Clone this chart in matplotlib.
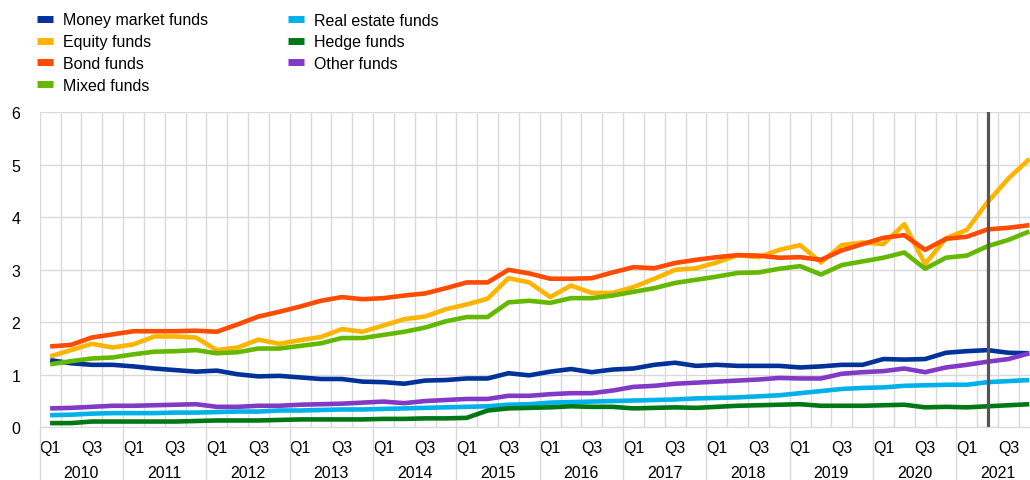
import matplotlib
matplotlib.use("Agg")
import matplotlib.pyplot as plt
import matplotlib.transforms as mtransforms
import numpy as np

plt.rcParams['font.family'] = ['Liberation Sans', 'DejaVu Sans']

years = list(range(2010, 2022))
quarters = [f"Q{q}" for y in years for q in range(1, 5)]

money_market = [1.28, 1.22, 1.19, 1.19, 1.16, 1.12, 1.09, 1.06, 1.08, 1.01, 0.97, 0.98,
                0.95, 0.92, 0.92, 0.87, 0.86, 0.83, 0.89, 0.90, 0.93, 0.93, 1.03, 0.99,
                1.06, 1.11, 1.05, 1.10, 1.12, 1.19, 1.23, 1.17, 1.19, 1.17, 1.17, 1.17,
                1.14, 1.16, 1.19, 1.19, 1.30, 1.29, 1.30, 1.42, 1.45, 1.47, 1.42, 1.41]
equity = [1.35, 1.47, 1.59, 1.52, 1.58, 1.73, 1.73, 1.71, 1.47, 1.52, 1.67, 1.59,
          1.66, 1.72, 1.87, 1.82, 1.94, 2.06, 2.11, 2.25, 2.34, 2.45, 2.84, 2.76,
          2.48, 2.70, 2.56, 2.56, 2.67, 2.83, 3.00, 3.03, 3.14, 3.28, 3.24, 3.38,
          3.47, 3.14, 3.47, 3.52, 3.49, 3.87, 3.11, 3.60, 3.76, 4.29, 4.74, 5.11]
bond = [1.54, 1.57, 1.71, 1.77, 1.83, 1.83, 1.83, 1.84, 1.82, 1.96, 2.11, 2.20,
        2.30, 2.41, 2.48, 2.44, 2.46, 2.51, 2.55, 2.65, 2.76, 2.76, 3.00, 2.93,
        2.83, 2.83, 2.84, 2.95, 3.05, 3.03, 3.13, 3.19, 3.24, 3.28, 3.27, 3.23,
        3.24, 3.19, 3.37, 3.49, 3.61, 3.66, 3.38, 3.59, 3.63, 3.77, 3.80, 3.85]
mixed = [1.20, 1.26, 1.31, 1.33, 1.39, 1.44, 1.45, 1.47, 1.41, 1.43, 1.50, 1.50,
         1.55, 1.60, 1.70, 1.70, 1.76, 1.82, 1.90, 2.02, 2.10, 2.10, 2.38, 2.41,
         2.37, 2.46, 2.46, 2.51, 2.58, 2.65, 2.75, 2.81, 2.87, 2.94, 2.95, 3.02,
         3.07, 2.91, 3.09, 3.16, 3.23, 3.33, 3.02, 3.23, 3.27, 3.45, 3.57, 3.73]
real_estate = [0.23, 0.24, 0.26, 0.27, 0.27, 0.27, 0.28, 0.28, 0.29, 0.30, 0.30, 0.32,
               0.32, 0.33, 0.34, 0.34, 0.35, 0.36, 0.37, 0.38, 0.39, 0.40, 0.43, 0.44,
               0.47, 0.48, 0.49, 0.50, 0.51, 0.52, 0.53, 0.55, 0.56, 0.57, 0.59, 0.61,
               0.65, 0.69, 0.73, 0.75, 0.76, 0.79, 0.80, 0.81, 0.81, 0.86, 0.88, 0.90]
hedge = [0.08, 0.08, 0.11, 0.11, 0.11, 0.11, 0.11, 0.12, 0.13, 0.13, 0.13, 0.14,
         0.15, 0.15, 0.15, 0.15, 0.16, 0.16, 0.17, 0.17, 0.18, 0.32, 0.36, 0.37,
         0.38, 0.40, 0.39, 0.39, 0.36, 0.37, 0.38, 0.37, 0.39, 0.41, 0.42, 0.43,
         0.44, 0.41, 0.41, 0.41, 0.42, 0.43, 0.38, 0.39, 0.38, 0.40, 0.42, 0.44]
other = [0.36, 0.37, 0.39, 0.41, 0.41, 0.42, 0.43, 0.44, 0.39, 0.39, 0.41, 0.41,
         0.43, 0.44, 0.45, 0.47, 0.49, 0.46, 0.50, 0.52, 0.54, 0.54, 0.60, 0.60,
         0.63, 0.65, 0.65, 0.70, 0.77, 0.79, 0.83, 0.85, 0.87, 0.89, 0.91, 0.94,
         0.93, 0.93, 1.02, 1.05, 1.07, 1.12, 1.05, 1.14, 1.19, 1.25, 1.30, 1.41]

series = [
    ("Money market funds", money_market, "#003299"),
    ("Equity funds", equity, "#FFB400"),
    ("Bond funds", bond, "#FF4B00"),
    ("Mixed funds", mixed, "#65B800"),
    ("Real estate funds", real_estate, "#00B1EA"),
    ("Hedge funds", hedge, "#007816"),
    ("Other funds", other, "#8139C6"),
]
marker_quarter = "2021Q2"
yticks = [0, 1, 2, 3, 4, 5, 6]

W, H = 1030, 481
fig = plt.figure(figsize=(W / 100, H / 100), dpi=100)
ax_left, ax_right = 39.7, 1039.7
ax_bottom, ax_top = 428.3, 113.3
ax = fig.add_axes([ax_left / W, 1 - ax_bottom / H, (ax_right - ax_left) / W, (ax_bottom - ax_top) / H])

n = len(quarters)
x = np.arange(n)
grid_c = "#d9d9d9"
fs = 11.5

for label, vals, col in series:
    ax.plot(x, vals, color=col, lw=3.3, label=label, solid_joinstyle="round", solid_capstyle="butt", zorder=3)

mi = [f"{y}Q{q}" for y in years for q in range(1, 5)].index(marker_quarter)
ax.axvline(mi, color="#555555", lw=2.3, zorder=4)

ax.set_xlim(-0.5, n - 0.5)
ax.set_ylim(0, 6)
ax.set_xticks(np.arange(-0.5, n, 1.0))
ax.set_xticklabels([])
ax.set_yticks(yticks)
ax.set_yticklabels([str(t) for t in yticks])
ax.grid(True, color=grid_c, lw=1.0, zorder=0)
ax.set_axisbelow(True)
ax.tick_params(axis="both", which="major", length=0, labelsize=fs)
ax.tick_params(axis="y", pad=14)

lbl_pos = [i for i, q in enumerate(quarters) if q in ("Q1", "Q3")]
ax.set_xticks(lbl_pos, labels=[quarters[i] for i in lbl_pos], minor=True)
ax.tick_params(axis="x", which="minor", length=0, labelsize=fs, pad=9)

for s in ["top", "right", "left"]:
    ax.spines[s].set_visible(False)
ax.spines["bottom"].set_color(grid_c)

trans = mtransforms.blended_transform_factory(ax.transData, ax.transAxes)
for k, y in enumerate(years):
    ax.plot([4 * k - 0.5, 4 * k - 0.5], [0, -0.2], color=grid_c, lw=1.0, transform=trans, clip_on=False)
    ax.text(4 * k + 1.5, -0.145, str(y), transform=trans, ha="center", va="center", fontsize=fs)

fig.legend(loc="upper left", bbox_to_anchor=(37 / W, 1 - 13.5 / H), ncol=2, frameon=False,
           fontsize=fs, handlelength=1.0, handletextpad=0.62, columnspacing=5.0,
           labelspacing=0.42, borderpad=0, borderaxespad=0)
for line in fig.legends[0].get_lines():
    line.set_linewidth(5)

fig.savefig("out.png", dpi=100)
